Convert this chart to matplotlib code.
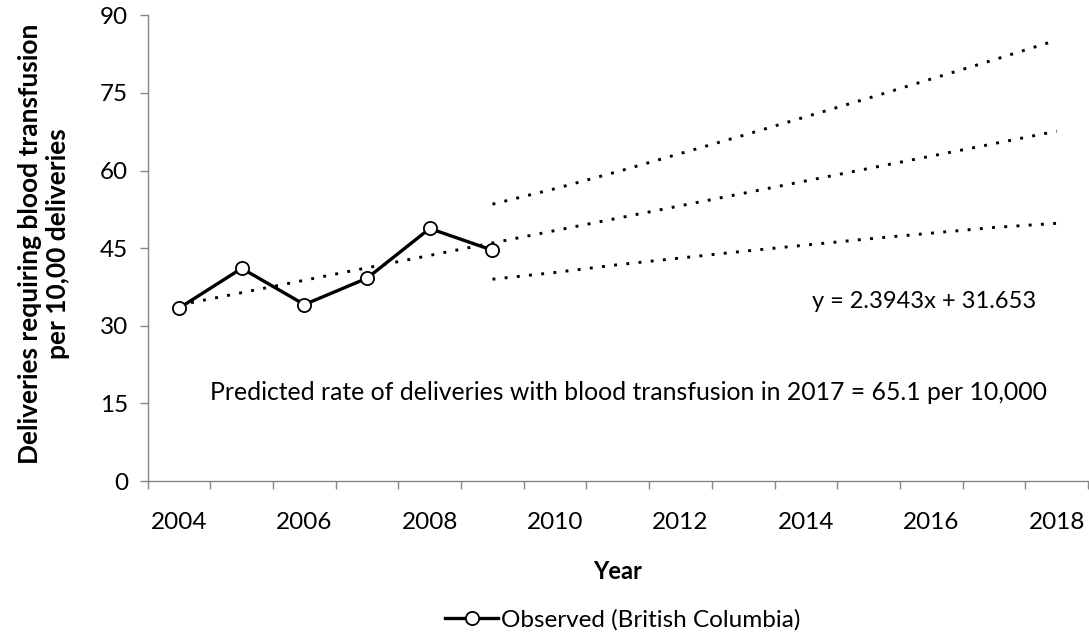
import matplotlib
matplotlib.use("Agg")
from matplotlib import pyplot as plt
import numpy as np

plt.rcParams['font.family'] = ['Lato', 'DejaVu Sans']

# observed rate per 10,000 deliveries
years_obs = [2004, 2005, 2006, 2007, 2008, 2009]
observed = [33.4, 41.1, 34.1, 39.2, 48.8, 44.6]

# linear trend, 2004-2018
years_trend = list(range(2004, 2019))
trend = [34.0, 36.4, 38.8, 41.2, 43.6, 46.0, 48.4, 50.8, 53.2, 55.6,
         58.0, 60.4, 62.8, 65.2, 67.6]

# upper / lower prediction limits, 2009-2018
years_band = list(range(2009, 2019))
upper = [53.5, 56.5, 59.8, 63.3, 66.8, 70.4, 74.0, 77.7, 81.4, 85.2]
lower = [39.0, 40.3, 41.8, 43.1, 44.4, 45.6, 46.8, 47.9, 49.0, 49.8]

tick_years = [2004, 2006, 2008, 2010, 2012, 2014, 2016, 2018]
y_ticks = [0, 15, 30, 45, 60, 75, 90]

eq_text = "y = 2.3943x + 31.653"
pred_text = "Predicted rate of deliveries with blood transfusion in 2017 = 65.1 per 10,000"

fig = plt.figure(figsize=(10.89, 6.35), dpi=100)
ax = fig.add_axes([0.1356, 0.2425, 0.8635, 0.7334])

dot = (0, (1.0, 3.2))
ax.plot(years_trend, trend, color='black', lw=2.1, linestyle=dot, zorder=2)
ax.plot(years_band, upper, color='black', lw=2.1, linestyle=dot, zorder=2)
ax.plot(years_band, lower, color='black', lw=2.1, linestyle=dot, zorder=2)

ax.plot(years_obs, observed, color='black', lw=2.4, marker='o', ms=9.5,
        mfc='white', mec='black', mew=1.3, zorder=3,
        label='Observed (British Columbia)')

ax.set_xlim(2003.5, 2018.5)
ax.set_ylim(0, 90)
ax.set_yticks(y_ticks)
ax.set_xticks(tick_years)
ax.set_xticklabels([str(t) for t in tick_years])
ax.set_xticks(np.arange(2003.5, 2019, 1.0), minor=True)

grey = '#868686'
for s in ['top', 'right']:
    ax.spines[s].set_visible(False)
for s in ['left', 'bottom']:
    ax.spines[s].set_color(grey)
    ax.spines[s].set_linewidth(1.0)

ax.tick_params(axis='x', which='major', length=0, labelsize=17.5, pad=22)
ax.tick_params(axis='x', which='minor', length=6, color=grey, width=1.0)
ax.tick_params(axis='y', length=6, color=grey, width=1.0, labelsize=17.5, pad=8)

ax.set_xlabel("Year", fontsize=17, fontweight='bold', labelpad=20)
fig.text(44 / 1089, 1 - 244 / 635,
         "Deliveries requiring blood transfusion\nper 10,00 deliveries",
         rotation=90, ha='center', va='center', multialignment='center',
         fontsize=19, fontweight='bold', linespacing=1.15)

ax.text(2017.67, 34.6, eq_text, fontsize=17, ha='right', va='center')
ax.text(2011.17, 17.2, pred_text, fontsize=17.8, ha='center', va='center')

ax.legend(loc='center', bbox_to_anchor=(0.505, -0.298), frameon=False,
          fontsize=17.5, handlelength=2.2, handletextpad=0.1,
          borderaxespad=0)

fig.savefig("out.png", dpi=100)
